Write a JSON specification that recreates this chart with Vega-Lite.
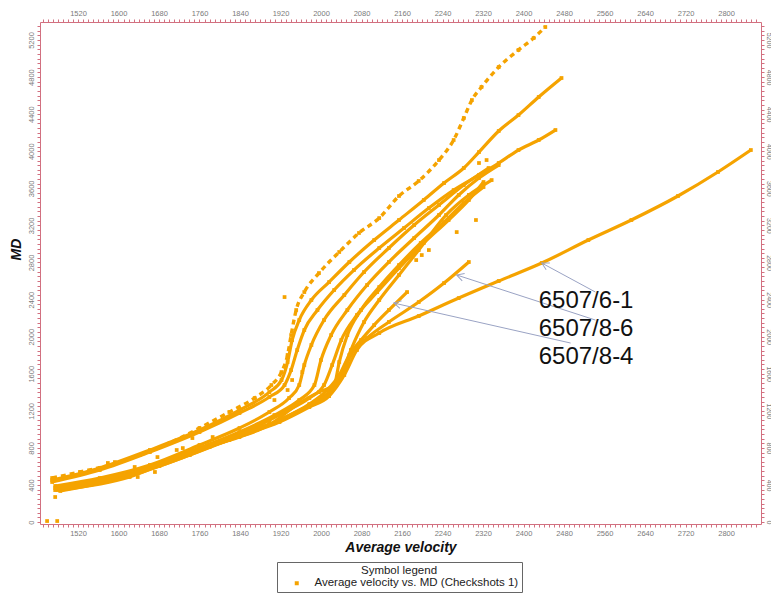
{
"$schema":"https://vega.github.io/schema/vega-lite/v6.json",
"width":721,"height":502,
"autosize":{"type":"none"},
"padding":{"left":40,"top":22,"right":10,"bottom":71},
"background":"white",
"datasets":{
"wells":[
{"well":"W1","v":1469,"md":475},{"well":"W1","v":1524,"md":540},{"well":"W1","v":1583,"md":615},{"well":"W1","v":1642,"md":723},{"well":"W1","v":1701,"md":852},{"well":"W1","v":1760,"md":1014},{"well":"W1","v":1819,"md":1187},{"well":"W1","v":1869,"md":1338},{"well":"W1","v":1902,"md":1478},{"well":"W1","v":1922,"md":1618},{"well":"W1","v":1934,"md":1802},{"well":"W1","v":1941,"md":2017},{"well":"W1","v":1951,"md":2287},{"well":"W1","v":1967,"md":2481},{"well":"W1","v":1996,"md":2686},{"well":"W1","v":2036,"md":2913},{"well":"W1","v":2075,"md":3118},{"well":"W1","v":2115,"md":3279},{"well":"W1","v":2154,"md":3517},{"well":"W1","v":2193,"md":3679},{"well":"W1","v":2233,"md":3905},{"well":"W1","v":2262,"md":4121},{"well":"W1","v":2282,"md":4358},{"well":"W1","v":2298,"md":4552},{"well":"W1","v":2317,"md":4693},{"well":"W1","v":2351,"md":4908},{"well":"W1","v":2390,"md":5092},{"well":"W1","v":2420,"md":5221},{"well":"W1","v":2443,"md":5340},
{"well":"W2","v":1469,"md":453},{"well":"W2","v":1563,"md":583},{"well":"W2","v":1662,"md":777},{"well":"W2","v":1760,"md":993},{"well":"W2","v":1839,"md":1208},{"well":"W2","v":1898,"md":1402},{"well":"W2","v":1922,"md":1532},{"well":"W2","v":1934,"md":1726},{"well":"W2","v":1943,"md":1963},{"well":"W2","v":1957,"md":2179},{"well":"W2","v":1981,"md":2395},{"well":"W2","v":2016,"md":2589},{"well":"W2","v":2056,"md":2805},{"well":"W2","v":2105,"md":3042},{"well":"W2","v":2154,"md":3258},{"well":"W2","v":2203,"md":3474},{"well":"W2","v":2243,"md":3657},{"well":"W2","v":2282,"md":3819},{"well":"W2","v":2312,"md":3991},{"well":"W2","v":2351,"md":4218},{"well":"W2","v":2390,"md":4390},{"well":"W2","v":2430,"md":4585},{"well":"W2","v":2475,"md":4790},
{"well":"W3","v":1469,"md":432},{"well":"W3","v":1563,"md":561},{"well":"W3","v":1662,"md":755},{"well":"W3","v":1760,"md":971},{"well":"W3","v":1839,"md":1176},{"well":"W3","v":1898,"md":1349},{"well":"W3","v":1928,"md":1478},{"well":"W3","v":1941,"md":1640},{"well":"W3","v":1953,"md":1856},{"well":"W3","v":1967,"md":2071},{"well":"W3","v":1993,"md":2287},{"well":"W3","v":2026,"md":2503},{"well":"W3","v":2065,"md":2718},{"well":"W3","v":2115,"md":2956},{"well":"W3","v":2164,"md":3172},{"well":"W3","v":2213,"md":3387},{"well":"W3","v":2262,"md":3581},{"well":"W3","v":2312,"md":3743},{"well":"W3","v":2351,"md":3873},{"well":"W3","v":2390,"md":4013},{"well":"W3","v":2430,"md":4121},{"well":"W3","v":2463,"md":4229},
{"well":"W4","v":1475,"md":389},{"well":"W4","v":1563,"md":475},{"well":"W4","v":1662,"md":615},{"well":"W4","v":1760,"md":831},{"well":"W4","v":1839,"md":1014},{"well":"W4","v":1898,"md":1187},{"well":"W4","v":1937,"md":1338},{"well":"W4","v":1957,"md":1478},{"well":"W4","v":1967,"md":1694},{"well":"W4","v":1981,"md":1910},{"well":"W4","v":2006,"md":2179},{"well":"W4","v":2046,"md":2449},{"well":"W4","v":2085,"md":2697},{"well":"W4","v":2134,"md":2956},{"well":"W4","v":2184,"md":3204},{"well":"W4","v":2233,"md":3420},{"well":"W4","v":2282,"md":3635},{"well":"W4","v":2331,"md":3819},
{"well":"W5","v":1475,"md":367},{"well":"W5","v":1563,"md":453},{"well":"W5","v":1662,"md":583},{"well":"W5","v":1760,"md":798},{"well":"W5","v":1839,"md":971},{"well":"W5","v":1908,"md":1154},{"well":"W5","v":1957,"md":1316},{"well":"W5","v":1987,"md":1478},{"well":"W5","v":2000,"md":1748},{"well":"W5","v":2020,"md":2017},{"well":"W5","v":2052,"md":2287},{"well":"W5","v":2091,"md":2557},{"well":"W5","v":2134,"md":2805},{"well":"W5","v":2184,"md":3064},{"well":"W5","v":2233,"md":3312},{"well":"W5","v":2272,"md":3528},{"well":"W5","v":2312,"md":3711},{"well":"W5","v":2351,"md":3851},
{"well":"W6","v":1475,"md":345},{"well":"W6","v":1583,"md":453},{"well":"W6","v":1681,"md":604},{"well":"W6","v":1780,"md":809},{"well":"W6","v":1859,"md":993},{"well":"W6","v":1928,"md":1187},{"well":"W6","v":1977,"md":1338},{"well":"W6","v":2006,"md":1478},{"well":"W6","v":2022,"md":1694},{"well":"W6","v":2040,"md":1963},{"well":"W6","v":2071,"md":2233},{"well":"W6","v":2111,"md":2481},{"well":"W6","v":2154,"md":2740},{"well":"W6","v":2203,"md":3010},{"well":"W6","v":2252,"md":3258},{"well":"W6","v":2292,"md":3474},{"well":"W6","v":2321,"md":3668},
{"well":"W7","v":1481,"md":356},{"well":"W7","v":1603,"md":475},{"well":"W7","v":1721,"md":712},{"well":"W7","v":1819,"md":885},{"well":"W7","v":1898,"md":1047},{"well":"W7","v":1957,"md":1284},{"well":"W7","v":1996,"md":1402},{"well":"W7","v":2026,"md":1478},{"well":"W7","v":2036,"md":1726},{"well":"W7","v":2052,"md":2017},{"well":"W7","v":2079,"md":2287},{"well":"W7","v":2115,"md":2535},{"well":"W7","v":2154,"md":2772},{"well":"W7","v":2197,"md":3010},{"well":"W7","v":2243,"md":3236},{"well":"W7","v":2282,"md":3441},{"well":"W7","v":2321,"md":3614},
{"well":"W8","v":1485,"md":345},{"well":"W8","v":1622,"md":486},{"well":"W8","v":1741,"md":755},{"well":"W8","v":1839,"md":917},{"well":"W8","v":1918,"md":1100},{"well":"W8","v":1977,"md":1262},{"well":"W8","v":2016,"md":1370},{"well":"W8","v":2040,"md":1586},{"well":"W8","v":2059,"md":1856},{"well":"W8","v":2085,"md":2158},{"well":"W8","v":2115,"md":2395},{"well":"W8","v":2154,"md":2665},{"well":"W8","v":2193,"md":2934},{"well":"W8","v":2247,"md":3312},{"well":"W8","v":2292,"md":3528},{"well":"W8","v":2337,"md":3689},
{"well":"6507/6-1","v":1485,"md":335},{"well":"6507/6-1","v":1622,"md":496},{"well":"6507/6-1","v":1741,"md":723},{"well":"6507/6-1","v":1839,"md":928},{"well":"6507/6-1","v":1918,"md":1079},{"well":"6507/6-1","v":1977,"md":1241},{"well":"6507/6-1","v":2016,"md":1359},{"well":"6507/6-1","v":2046,"md":1586},{"well":"6507/6-1","v":2071,"md":1856},{"well":"6507/6-1","v":2115,"md":2039},{"well":"6507/6-1","v":2193,"md":2222},{"well":"6507/6-1","v":2272,"md":2416},{"well":"6507/6-1","v":2351,"md":2600},{"well":"6507/6-1","v":2436,"md":2794},{"well":"6507/6-1","v":2528,"md":3042},{"well":"6507/6-1","v":2613,"md":3258},{"well":"6507/6-1","v":2705,"md":3517},{"well":"6507/6-1","v":2784,"md":3776},{"well":"6507/6-1","v":2849,"md":4013},
{"well":"6507/8-6","v":1481,"md":345},{"well":"6507/8-6","v":1622,"md":507},{"well":"6507/8-6","v":1741,"md":744},{"well":"6507/8-6","v":1839,"md":939},{"well":"6507/8-6","v":1918,"md":1090},{"well":"6507/8-6","v":1977,"md":1262},{"well":"6507/8-6","v":2016,"md":1402},{"well":"6507/8-6","v":2040,"md":1554},{"well":"6507/8-6","v":2059,"md":1802},{"well":"6507/8-6","v":2091,"md":1985},{"well":"6507/8-6","v":2134,"md":2158},{"well":"6507/8-6","v":2193,"md":2373},{"well":"6507/8-6","v":2243,"md":2578},{"well":"6507/8-6","v":2292,"md":2805},
{"well":"6507/8-4","v":1481,"md":356},{"well":"6507/8-4","v":1622,"md":518},{"well":"6507/8-4","v":1741,"md":755},{"well":"6507/8-4","v":1839,"md":949},{"well":"6507/8-4","v":1918,"md":1100},{"well":"6507/8-4","v":1977,"md":1273},{"well":"6507/8-4","v":2012,"md":1424},{"well":"6507/8-4","v":2036,"md":1586},{"well":"6507/8-4","v":2056,"md":1802},{"well":"6507/8-4","v":2079,"md":1963},{"well":"6507/8-4","v":2105,"md":2125},{"well":"6507/8-4","v":2134,"md":2287},{"well":"6507/8-4","v":2170,"md":2481},
{"well":"other","v":1459,"md":11},{"well":"other","v":1479,"md":11},{"well":"other","v":1475,"md":270},{"well":"other","v":1579,"md":637},{"well":"other","v":1593,"md":647},{"well":"other","v":1632,"md":594},{"well":"other","v":1638,"md":486},{"well":"other","v":1672,"md":540},{"well":"other","v":1677,"md":701},{"well":"other","v":1715,"md":777},{"well":"other","v":1727,"md":798},{"well":"other","v":1746,"md":906},{"well":"other","v":1786,"md":917},{"well":"other","v":1898,"md":1079},{"well":"other","v":1908,"md":1316},{"well":"other","v":1934,"md":1424},{"well":"other","v":1943,"md":1532},{"well":"other","v":1963,"md":1618},{"well":"other","v":1928,"md":2427},{"well":"other","v":2188,"md":2826},{"well":"other","v":2199,"md":2880},{"well":"other","v":2213,"md":2934},{"well":"other","v":2268,"md":3128},{"well":"other","v":2306,"md":3258},{"well":"other","v":2312,"md":3873},{"well":"other","v":2327,"md":3905}
],
"labels":[
{"label":"6507/6-1","v":2430,"md":2384},
{"label":"6507/8-6","v":2430,"md":2082},
{"label":"6507/8-4","v":2430,"md":1780}
],
"arrows":[
{"label":"6507/6-1","v":2542,"md":2481,"v2":2436,"md2":2794},
{"label":"6507/8-6","v":2542,"md":2179,"v2":2268,"md2":2665},
{"label":"6507/8-4","v":2493,"md":1931,"v2":2144,"md2":2362}
]
},
"layer":[
{
"data":{"name":"wells"},
"transform":[{"filter":"datum.well !== 'other' && datum.well !== 'W1'"}],
"mark":{"type":"line","color":"#F5A300","strokeWidth":3.2,"interpolate":"monotone"},
"encoding":{
"x":{"field":"v","type":"quantitative","scale":{"domain":[1445,2869],"nice":false,"zero":false},
"axis":{"orient":"bottom","tickCount":143,"format":"d","labelExpr":"datum.value % 80 === 0 ? datum.label : ''","title":"Average velocity","titlePadding":4}},
"y":{"field":"md","type":"quantitative","scale":{"domain":[-21,5394],"nice":false,"zero":false},
"axis":{"orient":"left","tickCount":108,"format":"d","labelAngle":-90,"labelExpr":"datum.value % 400 === 0 ? datum.label : ''","title":"MD","titleY":227}},
"detail":{"field":"well","type":"nominal"}
}
},
{
"data":{"name":"wells"},
"transform":[{"filter":"datum.well === 'W1'"}],
"mark":{"type":"line","color":"#F5A300","strokeWidth":3.4,"strokeDash":[5,4],"interpolate":"monotone"},
"encoding":{
"x":{"field":"v","type":"quantitative","scale":{"domain":[1445,2869],"nice":false,"zero":false},"axis":null},
"y":{"field":"md","type":"quantitative","scale":{"domain":[-21,5394],"nice":false,"zero":false},"axis":null}
}
},
{
"data":{"name":"wells"},
"mark":{"type":"point","shape":"square","filled":true,"size":14,"opacity":1},
"encoding":{
"x":{"field":"v","type":"quantitative","scale":{"domain":[1445,2869],"nice":false,"zero":false},"axis":null},
"y":{"field":"md","type":"quantitative","scale":{"domain":[-21,5394],"nice":false,"zero":false},"axis":null},
"color":{"datum":"Average velocity vs. MD (Checkshots 1)","type":"nominal","scale":{"range":["#F5A300"]},
"legend":{"title":"Symbol legend","orient":"none","legendX":237,"legendY":540,"titleAnchor":"middle","titleFontWeight":"normal","titleFontSize":11.5,"titleColor":"#222","titleFont":"Liberation Sans","titlePadding":1,"labelFont":"Liberation Sans","labelFontSize":11.5,"labelColor":"#222","labelLimit":400,"symbolType":"square","symbolSize":16,"symbolOffset":11,"labelOffset":12,"strokeColor":"#666","fillColor":"#ffffff","padding":3,"symbolStrokeWidth":0}}
}
},
{
"data":{"name":"arrows"},
"mark":{"type":"rule","color":"#9aa3c4","strokeWidth":1},
"encoding":{
"x":{"field":"v","type":"quantitative","scale":{"domain":[1445,2869],"nice":false,"zero":false},"axis":null},
"y":{"field":"md","type":"quantitative","scale":{"domain":[-21,5394],"nice":false,"zero":false},"axis":null},
"x2":{"field":"v2"},
"y2":{"field":"md2"}
}
},
{
"data":{"name":"arrows"},
"transform":[{"filter":"datum.label === '6507/6-1'"}],
"mark":{"type":"point","shape":"M-1,-0.55L0,0L-1,0.55","filled":false,"size":200,"color":"#9aa3c4","strokeWidth":1,"angle":208,"opacity":1},
"encoding":{
"x":{"field":"v2","type":"quantitative","scale":{"domain":[1445,2869],"nice":false,"zero":false},"axis":null},
"y":{"field":"md2","type":"quantitative","scale":{"domain":[-21,5394],"nice":false,"zero":false},"axis":null}
}
},
{
"data":{"name":"arrows"},
"transform":[{"filter":"datum.label === '6507/8-6'"}],
"mark":{"type":"point","shape":"M-1,-0.55L0,0L-1,0.55","filled":false,"size":200,"color":"#9aa3c4","strokeWidth":1,"angle":198,"opacity":1},
"encoding":{
"x":{"field":"v2","type":"quantitative","scale":{"domain":[1445,2869],"nice":false,"zero":false},"axis":null},
"y":{"field":"md2","type":"quantitative","scale":{"domain":[-21,5394],"nice":false,"zero":false},"axis":null}
}
},
{
"data":{"name":"arrows"},
"transform":[{"filter":"datum.label === '6507/8-4'"}],
"mark":{"type":"point","shape":"M-1,-0.55L0,0L-1,0.55","filled":false,"size":200,"color":"#9aa3c4","strokeWidth":1,"angle":193,"opacity":1},
"encoding":{
"x":{"field":"v2","type":"quantitative","scale":{"domain":[1445,2869],"nice":false,"zero":false},"axis":null},
"y":{"field":"md2","type":"quantitative","scale":{"domain":[-21,5394],"nice":false,"zero":false},"axis":null}
}
},
{
"data":{"name":"labels"},
"mark":{"type":"text","align":"left","baseline":"middle","fontSize":24,"font":"Liberation Sans","color":"#111"},
"encoding":{
"x":{"field":"v","type":"quantitative","scale":{"domain":[1445,2869],"nice":false,"zero":false},
"axis":{"orient":"top","tickCount":143,"format":"d","labelExpr":"datum.value % 80 === 0 ? datum.label : ''","title":null}},
"y":{"field":"md","type":"quantitative","scale":{"domain":[-21,5394],"nice":false,"zero":false},
"axis":{"orient":"right","tickCount":108,"format":"d","labelAngle":90,"labelPadding":1,"labelFontSize":7,"labelExpr":"datum.value % 400 === 0 ? datum.label : ''","title":null}},
"text":{"field":"label","type":"nominal"}
}
}
],
"resolve":{"axis":{"x":"independent","y":"independent"}},
"config":{
"view":{"stroke":null},
"font":"Liberation Sans",
"axis":{"labelFont":"Liberation Sans","labelFontSize":7.5,"labelColor":"#7a7a7a","domainColor":"#d27080","tickColor":"#d27080","tickSize":3,"grid":false,"labelOverlap":false,"labelPadding":2,"labelBound":false,"titleFont":"Liberation Sans","titleFontSize":14,"titleFontStyle":"italic","titleFontWeight":"bold","titleColor":"#111"}
}
}
